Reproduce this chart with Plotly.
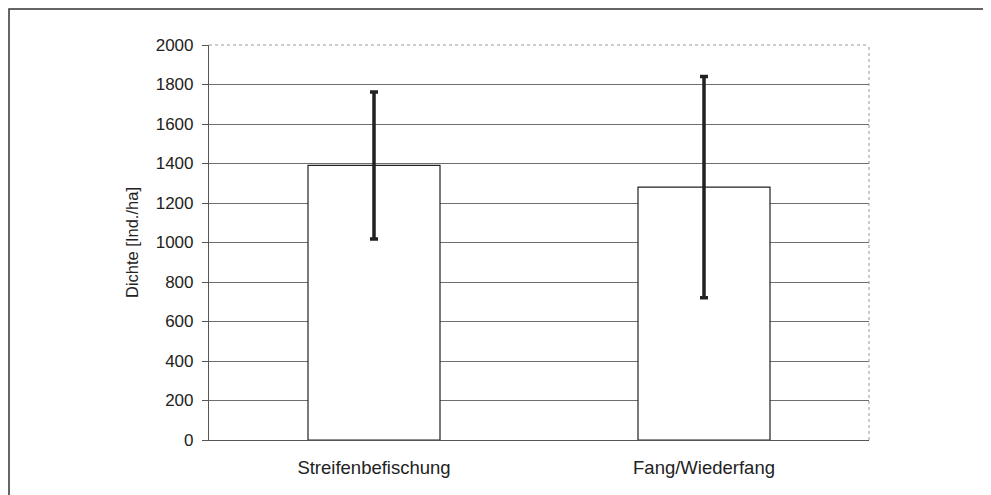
import plotly.graph_objects as go

categories = ["Streifenbefischung", "Fang/Wiederfang"]
dichte = [1390, 1280]
fehler = [372, 560]
y_ticks = [0, 200, 400, 600, 800, 1000, 1200, 1400, 1600, 1800, 2000]

fig = go.Figure()
fig.add_trace(go.Bar(
    x=categories, y=dichte,
    marker=dict(color="white", line=dict(color="#222222", width=1.2)),
    error_y=dict(type="data", array=fehler, visible=True,
                 color="#222222", thickness=3.5, width=4),
    width=0.4,
))

OFF = 8  # page body margin
L, R, T, B = 209 - OFF, 991 - 869 + OFF, 45 - OFF, 495 - 440 + OFF
W, H = 991 - L - R, 495 - T - B

def fx(x):
    # figure pixel -> paper fraction
    return (x - L) / W

def fy(y):
    return (495 - B - y) / H

fig.update_layout(
    width=991, height=495,
    margin=dict(l=L, r=R, t=T, b=B),
    paper_bgcolor="white", plot_bgcolor="white",
    showlegend=False,
    font=dict(family="Liberation Sans, Arial, sans-serif", size=17, color="#222222"),
    xaxis=dict(showgrid=False, showline=True, linecolor="#555555", linewidth=1.2,
               ticks="", tickfont=dict(size=18.5), ticklabelstandoff=11),
    yaxis=dict(range=[0, 2000], tickvals=y_ticks, showgrid=True,
               gridcolor="#6e6e6e", gridwidth=1, showline=True,
               linecolor="#555555", linewidth=1.2, ticks="outside", ticklen=6,
               tickcolor="#555555", tickfont=dict(size=17), zeroline=False,
               ticklabelstandoff=5,
               title=dict(text="Dichte [Ind./ha]", font=dict(size=16.5), standoff=12)),
    shapes=[
        dict(type="line", xref="paper", yref="paper", x0=0, x1=1, y0=1, y1=1,
             line=dict(color="#999999", width=1, dash="dot")),
        dict(type="line", xref="paper", yref="paper", x0=1, x1=1, y0=0, y1=1,
             line=dict(color="#999999", width=1, dash="dot")),
        dict(type="rect", xref="paper", yref="paper",
             x0=fx(1), x1=fx(1010), y0=fy(1), y1=fy(515),
             line=dict(color="#333333", width=1.5), fillcolor="rgba(0,0,0,0)"),
    ],
)

fig.write_html("out.html")
